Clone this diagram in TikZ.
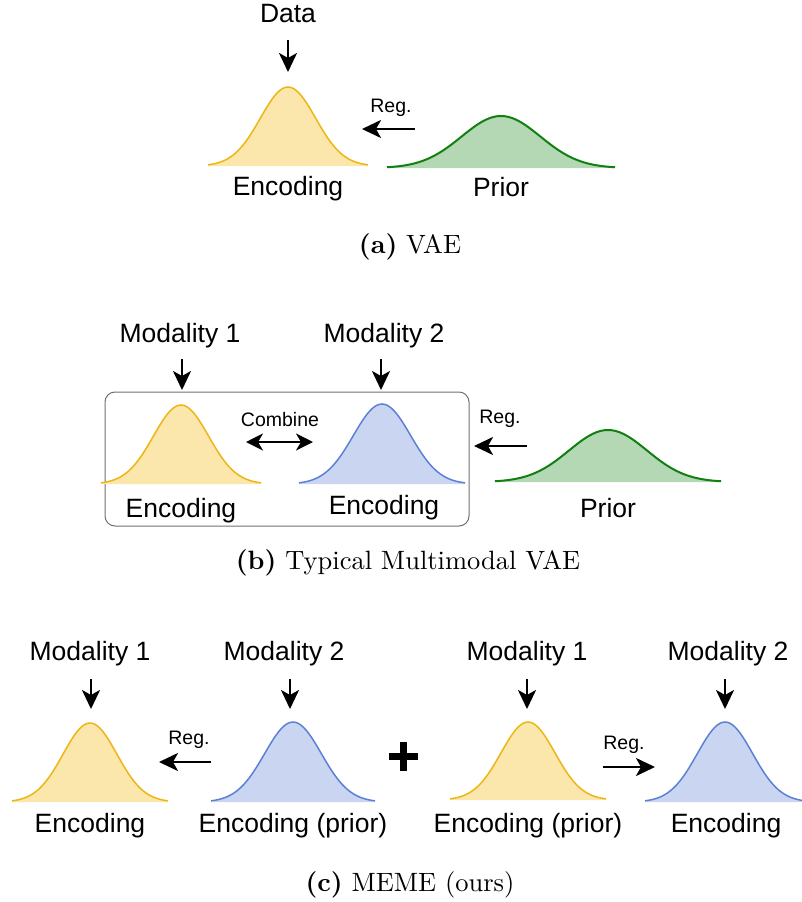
\documentclass[tikz,border=0pt]{standalone}
\usepackage{fontspec}
\newfontfamily\diagfont{Liberation Sans}
\newfontfamily\capfont{lmroman10-regular.otf}[BoldFont=lmroman10-bold.otf]
\usetikzlibrary{arrows.meta}
\definecolor{enc_yellow}{RGB}{251,230,172}
\definecolor{enc_yellow_line}{RGB}{236,182,20}
\definecolor{enc_blue}{RGB}{201,213,241}
\definecolor{enc_blue_line}{RGB}{92,128,214}
\definecolor{prior_green}{RGB}{180,216,180}
\definecolor{prior_green_line}{RGB}{16,128,16}
\definecolor{box_grey}{RGB}{112,112,112}
\tikzstyle{lbl}=[anchor=base,inner sep=0pt,font=\diagfont\fontsize{26.5}{30}\selectfont]
\tikzstyle{sml}=[anchor=base,inner sep=0pt,font=\diagfont\fontsize{19.5}{22}\selectfont]
\tikzstyle{captxt}=[anchor=base,inner sep=0pt,font=\capfont\fontsize{26.5}{30}\selectfont]
\tikzstyle{arr}=[line width=2.4pt,-{Stealth[length=19pt,width=18pt,inset=5pt]}]
\tikzstyle{dbl}=[line width=2.4pt,{Stealth[length=17pt,width=17pt,inset=5pt]}-{Stealth[length=17pt,width=17pt,inset=5pt]}]
\tikzstyle{yel}=[draw=enc_yellow_line,line width=1.5pt]
\tikzstyle{blu}=[draw=enc_blue_line,line width=1.5pt]
\tikzstyle{grn}=[draw=prior_green_line,line width=2pt]
\tikzstyle{grp}=[draw=box_grey,line width=1pt,rounded corners=10pt]
\tikzstyle{plusbar}=[line width=7pt]
\tikzstyle{none}=[]
% bell curve: fill colour, line style, centre x, baseline y, half width, height
\newcommand{\bell}[6]{%
  \fill[#1] plot[domain=-2.9:2.9,samples=61,smooth] ({#3+#5*\x/2.9},{#4-#6*exp(-\x*\x/2)})
    -- (#3+#5,#4) -- (#3-#5,#4) -- cycle;
  \draw[style=#2] plot[domain=-2.9:2.9,samples=61,smooth] ({#3+#5*\x/2.9},{#4-#6*exp(-\x*\x/2)});}

\begin{document}
\begin{tikzpicture}[x=1pt,y=-1pt]
            \useasboundingbox (0,0) rectangle (802,902);
            % (a) VAE
            \bell{enc_yellow}{yel}{288}{166}{80}{79}
            \bell{prior_green}{grn}{501}{168}{114}{52}
            \node [style=lbl] (0) at (288, 23) {Data};
            \node [style=lbl] (1) at (288, 195) {Encoding};
            \node [style=lbl] (2) at (501, 196) {Prior};
            \node [style=sml] (3) at (391, 112) {Reg.};
            \node [style=captxt] (4) at (410, 253) {\textbf{(a)} VAE};
            \node [style=none] (5) at (288, 40) {};
            \node [style=none] (6) at (288, 72) {};
            \node [style=none] (7) at (415, 129) {};
            \node [style=none] (8) at (362, 129) {};
            \draw [style=arr] (5.center) to (6.center);
            \draw [style=arr] (7.center) to (8.center);
            % (b) Typical Multimodal VAE
            \draw [style=grp] (105, 392) rectangle (469, 526);
            \bell{enc_yellow}{yel}{181}{484}{80}{79}
            \bell{enc_blue}{blu}{382}{484}{83}{80}
            \bell{prior_green}{grn}{608}{482}{113}{52}
            \node [style=lbl] (10) at (180, 342) {Modality 1};
            \node [style=lbl] (11) at (384, 342) {Modality 2};
            \node [style=sml] (12) at (280, 426) {Combine};
            \node [style=lbl] (13) at (181, 517) {Encoding};
            \node [style=lbl] (14) at (384, 514) {Encoding};
            \node [style=sml] (15) at (500, 423) {Reg.};
            \node [style=lbl] (16) at (608, 517) {Prior};
            \node [style=captxt] (17) at (408, 569) {\textbf{(b)} Typical Multimodal VAE};
            \node [style=none] (18) at (182, 359) {};
            \node [style=none] (19) at (182, 390) {};
            \node [style=none] (20) at (381, 359) {};
            \node [style=none] (21) at (381, 390) {};
            \node [style=none] (22) at (246, 442) {};
            \node [style=none] (23) at (313, 442) {};
            \node [style=none] (24) at (527, 446) {};
            \node [style=none] (25) at (474, 446) {};
            \draw [style=arr] (18.center) to (19.center);
            \draw [style=arr] (20.center) to (21.center);
            \draw [style=dbl] (22.center) to (23.center);
            \draw [style=arr] (24.center) to (25.center);
            % (c) MEME (ours)
            \bell{enc_yellow}{yel}{90}{802}{78}{79}
            \bell{enc_blue}{blu}{293}{802}{82}{80}
            \bell{enc_yellow}{yel}{528}{800}{78}{78}
            \bell{enc_blue}{blu}{725}{802}{80}{80}
            \node [style=lbl] (30) at (90, 660) {Modality 1};
            \node [style=lbl] (31) at (284, 660) {Modality 2};
            \node [style=lbl] (32) at (527, 660) {Modality 1};
            \node [style=lbl] (33) at (728, 660) {Modality 2};
            \node [style=sml] (34) at (189, 744) {Reg.};
            \node [style=sml] (35) at (624, 749) {Reg.};
            \node [style=lbl] (36) at (90, 832) {Encoding};
            \node [style=lbl] (37) at (293, 832) {Encoding (prior)};
            \node [style=lbl] (38) at (528, 832) {Encoding (prior)};
            \node [style=lbl] (39) at (726, 832) {Encoding};
            \node [style=captxt] (40) at (410, 891) {\textbf{(c)} MEME (ours)};
            \node [style=none] (41) at (91, 679) {};
            \node [style=none] (42) at (91, 709) {};
            \node [style=none] (43) at (290, 679) {};
            \node [style=none] (44) at (290, 709) {};
            \node [style=none] (45) at (527, 679) {};
            \node [style=none] (46) at (527, 709) {};
            \node [style=none] (47) at (725, 679) {};
            \node [style=none] (48) at (725, 709) {};
            \node [style=none] (49) at (211, 762) {};
            \node [style=none] (50) at (159, 762) {};
            \node [style=none] (51) at (603, 767) {};
            \node [style=none] (52) at (655, 767) {};
            \draw [style=arr] (41.center) to (42.center);
            \draw [style=arr] (43.center) to (44.center);
            \draw [style=arr] (45.center) to (46.center);
            \draw [style=arr] (47.center) to (48.center);
            \draw [style=arr] (49.center) to (50.center);
            \draw [style=arr] (51.center) to (52.center);
            \draw [style=plusbar] (389, 756.5) to (418, 756.5);
            \draw [style=plusbar] (403.5, 742) to (403.5, 771);
    \end{tikzpicture}
\end{document}
